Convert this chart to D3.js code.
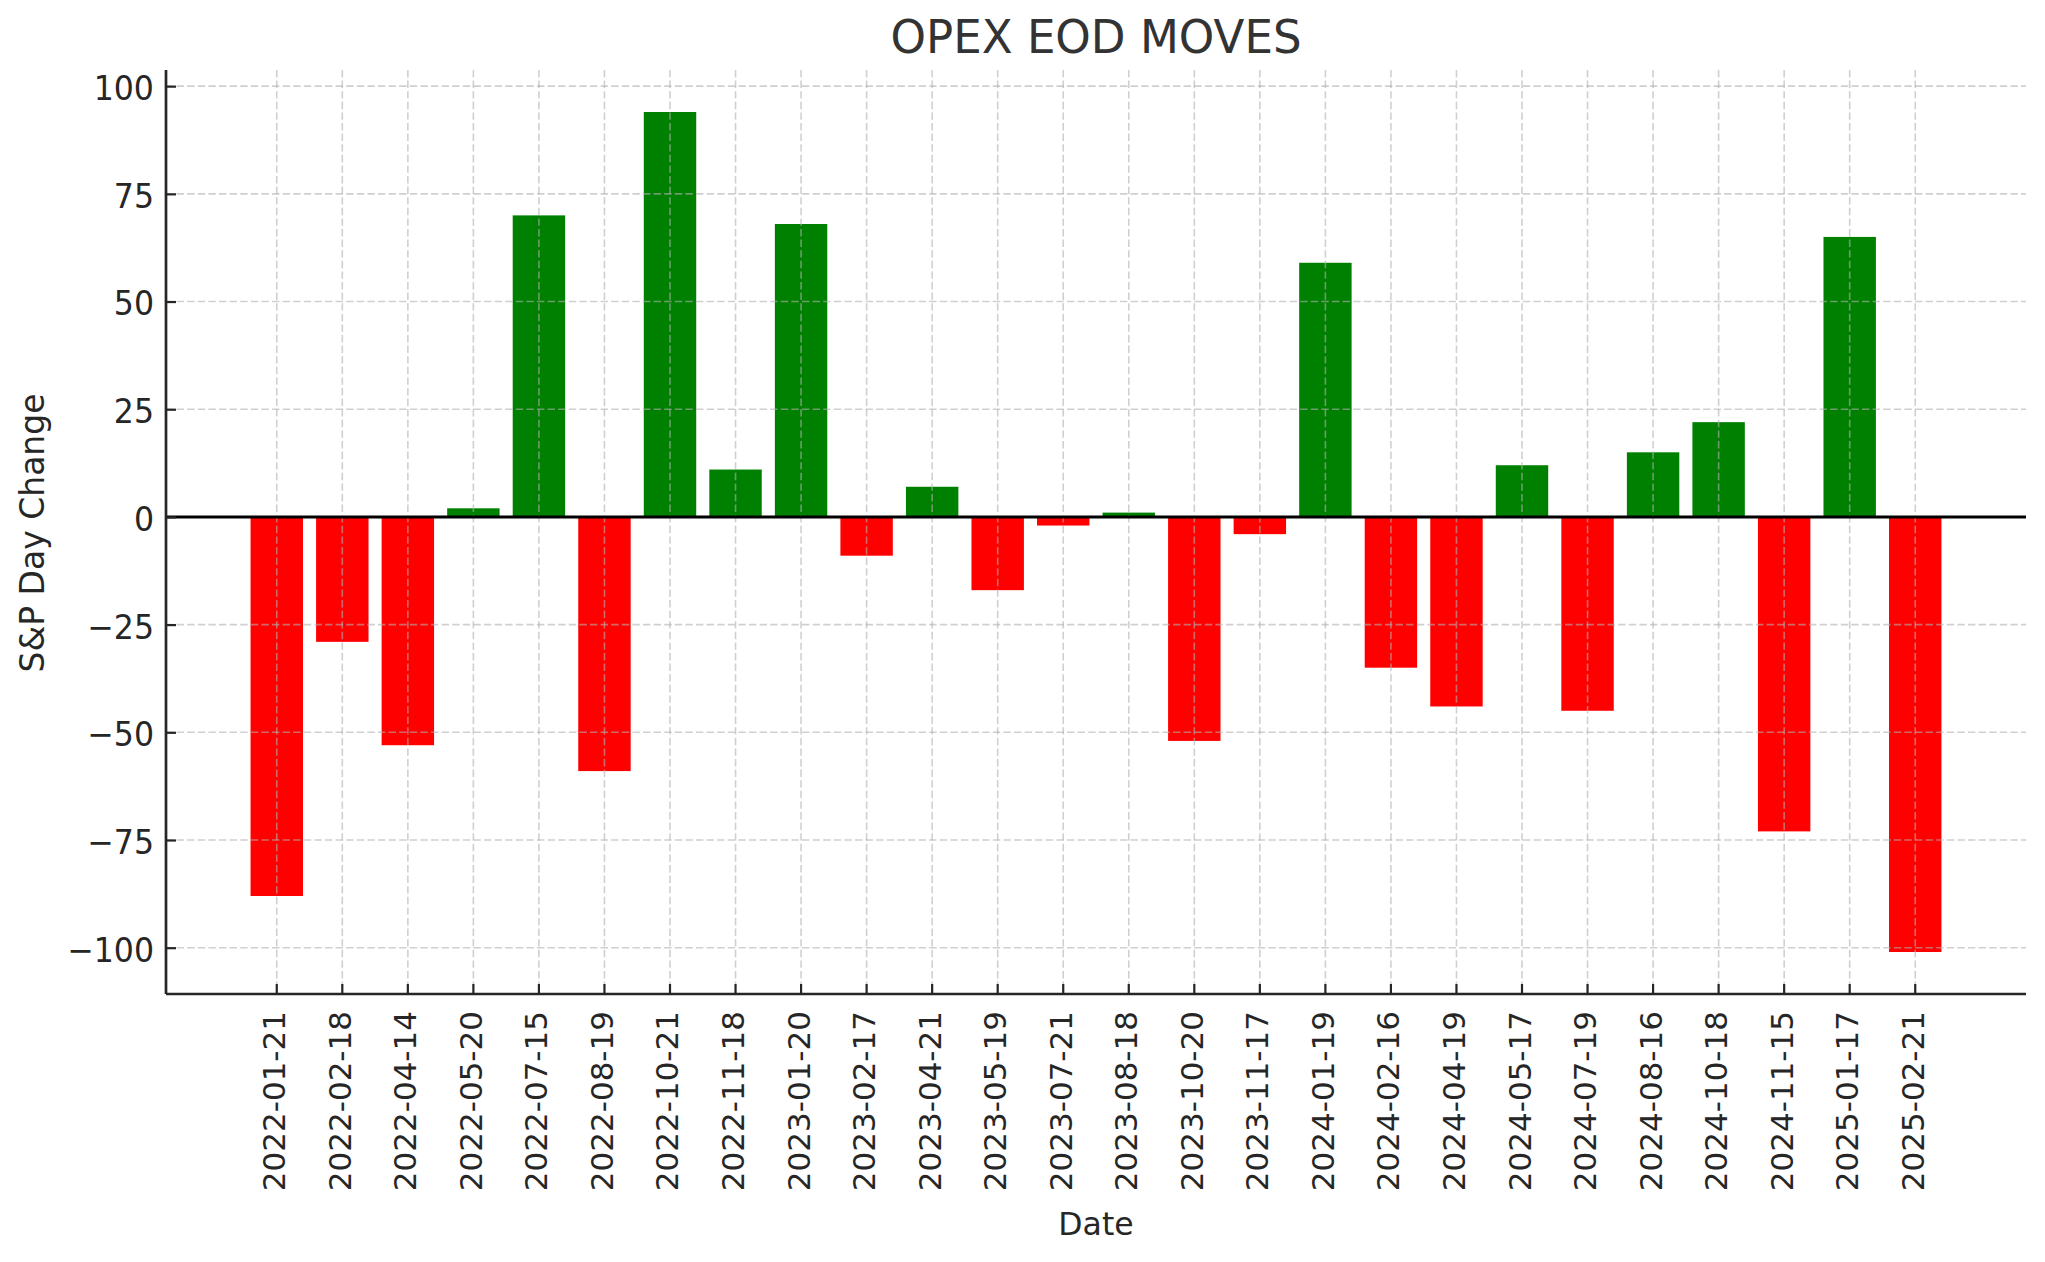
<!DOCTYPE html>
<html>
<head>
<meta charset="utf-8">
<script src="https://cdn.jsdelivr.net/npm/d3@7"></script>
<style>
  html, body { margin: 0; padding: 0; background: #ffffff; }
  svg { display: block; }
  text { font-family: "DejaVu Sans", sans-serif; }
</style>
</head>
<body>
<script>
const dates = [
  "2022-01-21","2022-02-18","2022-04-14","2022-05-20","2022-07-15","2022-08-19",
  "2022-10-21","2022-11-18","2023-01-20","2023-02-17","2023-04-21","2023-05-19",
  "2023-07-21","2023-08-18","2023-10-20","2023-11-17","2024-01-19","2024-02-16",
  "2024-04-19","2024-05-17","2024-07-19","2024-08-16","2024-10-18","2024-11-15",
  "2025-01-17","2025-02-21"
];
const changes = [
  -88, -29, -53, 2, 70, -59,
  94, 11, 68, -9, 7, -17,
  -2, 1, -52, -4, 59, -35,
  -44, 12, -45, 15, 22, -73,
  65, -101
];
const yTicks = [-100, -75, -50, -25, 0, 25, 50, 75, 100];
const title = "OPEX EOD MOVES";
const xLabel = "Date";
const yLabel = "S&P Day Change";

const W = 2045, H = 1262;
const plot = { left: 166, right: 2026, top: 70, bottom: 994 };

const svg = d3.select("body").append("svg").attr("width", W).attr("height", H);

const x = d3.scaleBand().domain(dates).range([plot.left, plot.right])
  .paddingInner(0.2).paddingOuter(1.29);
const yMin = d3.min(changes), yMax = d3.max(changes);
const pad = (yMax - yMin) * 0.05;
const y = d3.scaleLinear().domain([yMin - pad, yMax + pad]).range([plot.bottom, plot.top]);

const cx = d => x(d) + x.bandwidth() / 2;

// bars
svg.append("g").selectAll("rect").data(dates).join("rect")
  .attr("x", d => x(d))
  .attr("width", x.bandwidth())
  .attr("y", (d, i) => y(Math.max(0, changes[i])))
  .attr("height", (d, i) => Math.abs(y(changes[i]) - y(0)))
  .attr("fill", (d, i) => changes[i] >= 0 ? "#008000" : "#ff0000");

// grid (drawn above bars, semi-transparent)
const grid = svg.append("g").attr("stroke", "#b0b0b0").attr("stroke-opacity", 0.6)
  .attr("stroke-width", 1.6).attr("stroke-dasharray", "7.4,3.2");
grid.selectAll("line.v").data(dates).join("line").attr("class", "v")
  .attr("x1", cx).attr("x2", cx).attr("y1", plot.top).attr("y2", plot.bottom);
grid.selectAll("line.h").data(yTicks).join("line").attr("class", "h")
  .attr("x1", plot.left).attr("x2", plot.right).attr("y1", d => y(d)).attr("y2", d => y(d));

// zero line
svg.append("line").attr("x1", plot.left).attr("x2", plot.right)
  .attr("y1", y(0)).attr("y2", y(0)).attr("stroke", "#000").attr("stroke-width", 3);

// y axis
const yAxis = d3.axisLeft(y).tickValues(yTicks).tickSizeInner(-10).tickSizeOuter(0).tickPadding(22);
const gy = svg.append("g").attr("transform", `translate(${plot.left},0)`).call(yAxis);
gy.select(".domain").attr("stroke", "#262626").attr("stroke-width", 2.7)
  .attr("d", `M0,${plot.top}V${plot.bottom}`);
gy.selectAll(".tick line").attr("stroke", "#262626").attr("stroke-width", 2.2);
gy.selectAll(".tick text")
  .attr("fill", "#262626").attr("font-size", 34)
  .attr("font-family", "DejaVu Sans")
  .attr("x", null).attr("dy", null)
  .attr("dominant-baseline", "central")
  .attr("transform", "translate(-12,2) scale(0.93,1)");

// x axis
const xAxis = d3.axisBottom(x).tickSizeInner(-10).tickSizeOuter(0).tickPadding(0);
const gx = svg.append("g").attr("transform", `translate(0,${plot.bottom})`).call(xAxis);
gx.select(".domain").attr("stroke", "#262626").attr("stroke-width", 2.7)
  .attr("d", `M${plot.left},0H${plot.right}`);
gx.selectAll(".tick line").attr("stroke", "#262626").attr("stroke-width", 2.2);
gx.selectAll(".tick text")
  .attr("fill", "#262626").attr("font-size", 31)
  .attr("font-family", "DejaVu Sans")
  .attr("y", null).attr("dy", null)
  .attr("text-anchor", "end")
  .attr("transform", "translate(8.5,17) rotate(-90)");

// title
const titleCx = (plot.left + plot.right) / 2;
const titleSx = 0.96;
svg.append("text").attr("x", titleCx).attr("y", 53)
  .attr("text-anchor", "middle").attr("font-size", 47).attr("fill", "#333333")
  .attr("transform", `translate(${titleCx * (1 - titleSx)},0) scale(${titleSx},1)`)
  .text(title);

// axis labels
svg.append("text").attr("x", (plot.left + plot.right) / 2).attr("y", 1235)
  .attr("text-anchor", "middle").attr("font-size", 31.5).attr("fill", "#262626")
  .text(xLabel);
svg.append("text").attr("transform", `translate(44,${(plot.top + plot.bottom) / 2 + 1}) rotate(-90)`)
  .attr("text-anchor", "middle").attr("font-size", 33).attr("fill", "#262626")
  .text(yLabel);
</script>
</body>
</html>
